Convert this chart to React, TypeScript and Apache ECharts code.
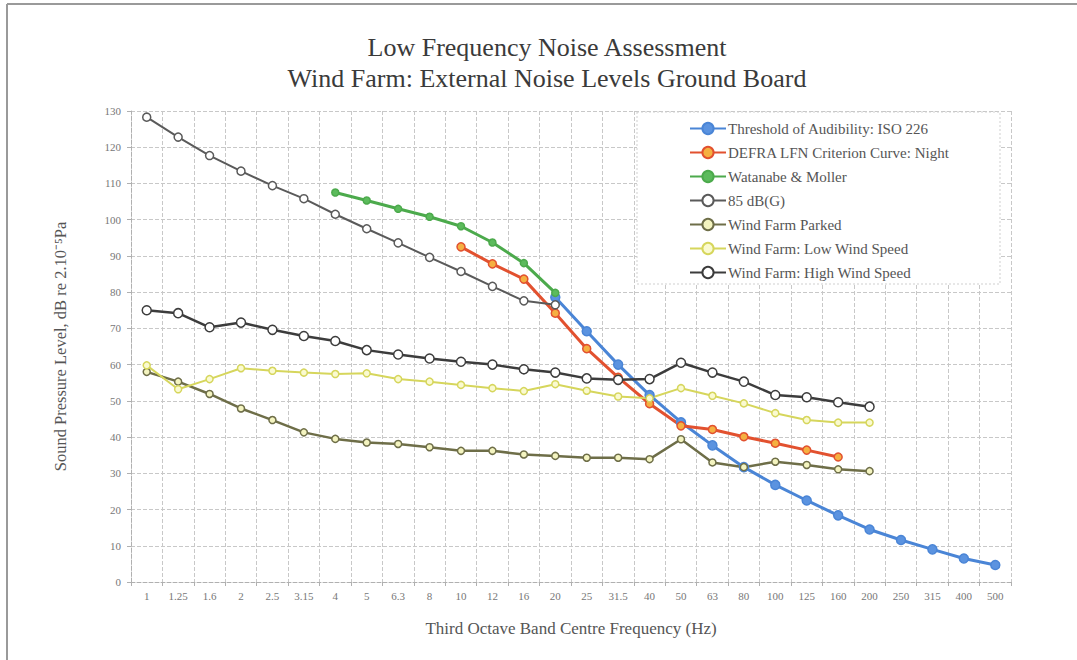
import React, { useEffect, useRef } from "react";
import * as echarts from "echarts";

const categories = ["1", "1.25", "1.6", "2", "2.5", "3.15", "4", "5", "6.3", "8", "10", "12", "16", "20", "25", "31.5", "40", "50", "63", "80", "100", "125", "160", "200", "250", "315", "400", "500"];

const N = null;
const threshold = [N, N, N, N, N, N, N, N, N, N, N, N, N, 78.6, 69.2, 60.0, 51.6, 44.1, 37.7, 31.7, 26.8, 22.5, 18.4, 14.5, 11.6, 9.0, 6.5, 4.7];
const defra = [N, N, N, N, N, N, N, N, N, N, 92.5, 87.8, 83.6, 74.2, 64.4, 56.5, 49.2, 43.1, 42.1, 40.1, 38.3, 36.4, 34.5, N, N, N, N, N];
const watanabe = [N, N, N, N, N, N, 107.5, 105.3, 103.0, 100.8, 98.2, 93.7, 88.0, 79.8, N, N, N, N, N, N, N, N, N, N, N, N, N, N];
const dbg85 = [128.3, 122.8, 117.7, 113.4, 109.4, 105.8, 101.5, 97.5, 93.6, 89.6, 85.7, 81.6, 77.6, 76.5, N, N, N, N, N, N, N, N, N, N, N, N, N, N];
const parked = [58.0, 55.3, 51.9, 47.9, 44.7, 41.3, 39.5, 38.5, 38.1, 37.2, 36.2, 36.2, 35.2, 34.8, 34.3, 34.3, 33.9, 39.4, 33.0, 31.7, 33.2, 32.3, 31.1, 30.6, N, N, N, N];
const lowWind = [59.8, 53.2, 56.0, 59.0, 58.3, 57.8, 57.4, 57.6, 56.0, 55.3, 54.4, 53.5, 52.7, 54.6, 52.8, 51.2, 50.7, 53.5, 51.4, 49.3, 46.6, 44.7, 44.0, 44.0, N, N, N, N];
const highWind = [75.0, 74.2, 70.3, 71.6, 69.6, 67.9, 66.5, 64.0, 62.8, 61.7, 60.8, 60.0, 58.7, 57.8, 56.2, 55.8, 56.0, 60.5, 57.8, 55.3, 51.6, 51.0, 49.6, 48.4, N, N, N, N];

const seriesNames = [
  "Threshold of Audibility: ISO 226",
  "DEFRA LFN Criterion Curve: Night",
  "Watanabe & Moller",
  "85 dB(G)",
  "Wind Farm Parked",
  "Wind Farm: Low Wind Speed",
  "Wind Farm: High Wind Speed",
];

const titleLines = ["Low Frequency Noise Assessment", "Wind Farm: External Noise Levels Ground Board"];
const yAxisName = "Sound Pressure Level, dB re 2.10\u207B\u2075Pa";
const xAxisName = "Third Octave Band Centre Frequency (Hz)";

const FONT = "'Liberation Serif', 'Times New Roman', serif";

function mk(name: string, data: (number | null)[], color: string, width: number, fill: string, size: number, symbol = "circle") {
  return {
    name,
    type: "line",
    data,
    symbol,
    symbolSize: size,
    lineStyle: { color, width },
    itemStyle: { color: fill, borderColor: color, borderWidth: 1.5 },
    emphasis: { disabled: true },
  };
}

export default function App() {
  const ref = useRef<HTMLDivElement>(null);
  useEffect(() => {
    if (!ref.current) return;
    const chart = echarts.init(ref.current, undefined, { renderer: "svg" });
    const gridLine = { show: true, lineStyle: { color: "#c8c8c8", type: "dashed", width: 1 } };
    chart.setOption({
      animation: false,
      backgroundColor: "#ffffff",
      textStyle: { fontFamily: FONT },
      grid: { left: 131, right: 66, top: 111, bottom: 78 },
      graphic: [
        { type: "line", shape: { x1: 7, y1: 4, x2: 1077, y2: 4 }, style: { stroke: "#9a9a9a", lineWidth: 2 }, z: 1 },
        { type: "line", shape: { x1: 7, y1: 4, x2: 7, y2: 660 }, style: { stroke: "#9a9a9a", lineWidth: 2 }, z: 1 },
        {
          type: "text", x: 547, y: 34, z: 1,
          style: { text: titleLines[0], font: `26px ${FONT}`, fill: "#3a3a3a", textAlign: "center", textVerticalAlign: "top" },
        },
        {
          type: "text", x: 547, y: 65, z: 1,
          style: { text: titleLines[1], font: `26px ${FONT}`, fill: "#3a3a3a", textAlign: "center", textVerticalAlign: "top" },
        },
        {
          type: "rect", shape: { x: 637, y: 112, width: 363, height: 172 }, z: 50,
          style: { fill: "#ffffff", stroke: "#cfcfcf", lineWidth: 1, lineDash: [2, 2] },
        },
      ],
      legend: {
        orient: "vertical",
        left: 684,
        top: 116,
        itemWidth: 36,
        itemHeight: 14,
        itemGap: 9,
        z: 60,
        textStyle: { fontFamily: FONT, fontSize: 15, color: "#555", padding: [0, 0, 0, -3] },
        data: seriesNames,
      },
      xAxis: {
        type: "category",
        data: categories,
        boundaryGap: true,
        name: xAxisName,
        nameLocation: "middle",
        nameGap: 38,
        nameTextStyle: { fontFamily: FONT, fontSize: 17, color: "#555" },
        axisLine: { lineStyle: { color: "#b0b0b0", type: "dashed" } },
        axisTick: { show: true, length: 4, lineStyle: { color: "#b0b0b0" } },
        axisLabel: { fontFamily: FONT, fontSize: 11, color: "#777", margin: 8, interval: 0 },
        splitLine: gridLine,
      },
      yAxis: {
        type: "value",
        min: 0,
        max: 130,
        interval: 10,
        name: yAxisName,
        nameLocation: "middle",
        nameGap: 62,
        nameTextStyle: { fontFamily: FONT, fontSize: 16.5, color: "#555" },
        axisLine: { show: true, lineStyle: { color: "#b0b0b0", type: "dashed" } },
        axisTick: { show: true, length: 4, lineStyle: { color: "#b0b0b0" } },
        axisLabel: { fontFamily: FONT, fontSize: 11, color: "#777", margin: 10 },
        splitLine: gridLine,
      },
      series: [
        mk(seriesNames[0], threshold, "#4a85d6", 3, "#5b93e0", 9),
        mk(seriesNames[1], defra, "#e2512f", 3, "#f5b041", 8),
        mk(seriesNames[2], watanabe, "#4caa4c", 3, "#5cbb5c", 7),
        mk(seriesNames[3], dbg85, "#5a5a5a", 2, "#ffffff", 8),
        mk(seriesNames[4], parked, "#6e6e48", 2.5, "#f4f4c0", 7),
        mk(seriesNames[5], lowWind, "#d6d65c", 2, "#fafad0", 7),
        mk(seriesNames[6], highWind, "#3c3c3c", 2.5, "#ffffff", 9),
      ],
    });
    return () => chart.dispose();
  }, []);
  return <div ref={ref} style={{ position: "fixed", left: 0, top: 0, width: 1077, height: 660 }} />;
}
